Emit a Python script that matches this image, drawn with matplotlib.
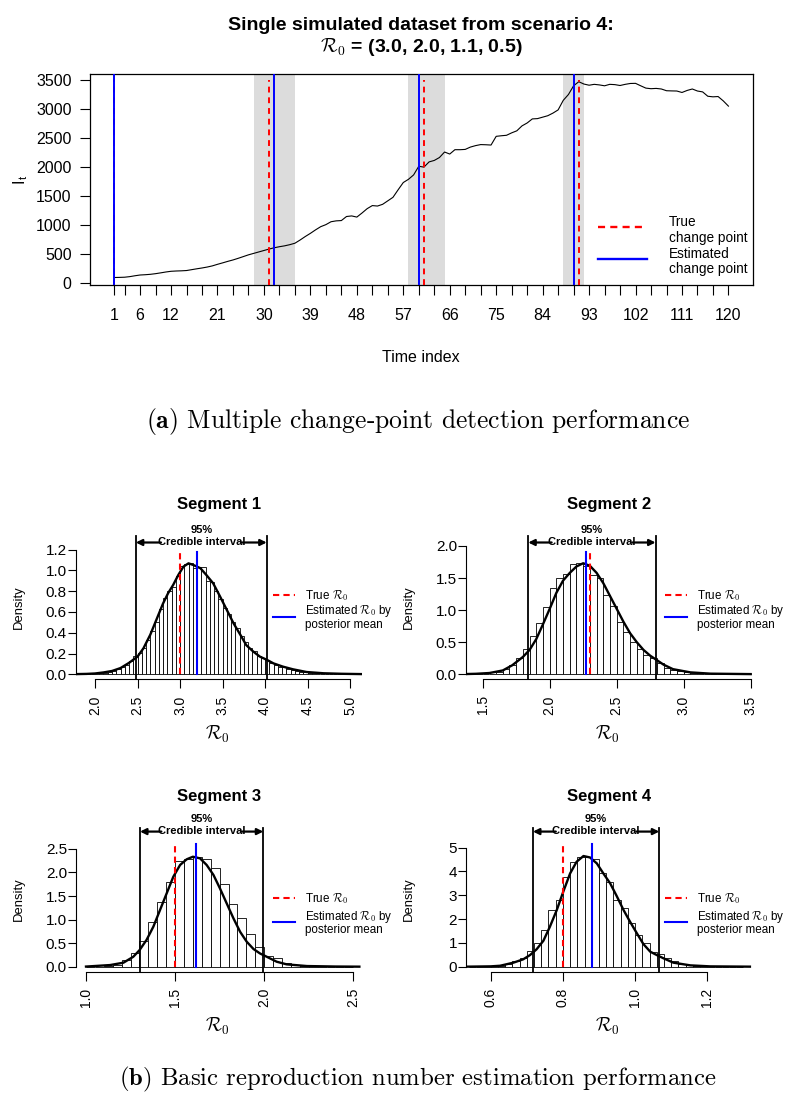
import numpy as np
import matplotlib
matplotlib.use("Agg")
import matplotlib.pyplot as plt
from matplotlib.lines import Line2D
from matplotlib.ticker import FormatStrFormatter
from matplotlib.transforms import blended_transform_factory

# ---- data: single simulated epidemic (scenario 4) ----
time_index = np.arange(1, 121)
infected = [100, 102, 105, 115, 130, 143, 148, 155, 166, 180,
            195, 207, 212, 215, 220, 235, 250, 264, 280, 300,
            327, 352, 378, 402, 430, 460, 490, 515, 540, 565,
            590, 612, 630, 645, 665, 690, 745, 805, 860, 920,
            975, 1010, 1060, 1075, 1080, 1150, 1160, 1140, 1210, 1285,
            1338, 1330, 1360, 1420, 1480, 1610, 1735, 1790, 1866, 2015,
            2000, 2090, 2115, 2165, 2260, 2225, 2300, 2300, 2305, 2345,
            2370, 2388, 2385, 2380, 2530, 2540, 2548, 2590, 2625, 2710,
            2760, 2830, 2835, 2860, 2885, 2930, 2985, 3150, 3250, 3400,
            3470, 3430, 3410, 3425, 3415, 3400, 3425, 3420, 3405, 3425,
            3440, 3442, 3400, 3360, 3350, 3355, 3345, 3315, 3312, 3310,
            3285, 3320, 3345, 3310, 3295, 3220, 3210, 3215, 3140, 3050]
true_cp = [1, 31, 61, 91]
est_cp = [1, 32, 60, 90]
cp_bands = [(28, 36), (58, 65), (88, 92)]
time_ticks = [1] + list(range(3, 121, 3))
time_labels = [1, 6, 12, 21, 30, 39, 48, 57, 66, 75, 84, 93, 102, 111, 120]

# ---- posterior samples of R0 per segment (histogram + density) ----
seg_names = ["Segment 1", "Segment 2", "Segment 3", "Segment 4"]
bin_start = [1.80, 1.40, 1.00, 0.54]
bin_width = [0.05, 0.05, 0.05, 0.02]
hist_heights = [
    [0.001, 0.002, 0.003, 0.005,
     0.008, 0.012, 0.016, 0.024, 0.035, 0.05, 0.07, 0.09, 0.125, 0.18,
     0.205, 0.25, 0.33, 0.42, 0.50, 0.63, 0.73, 0.80, 0.84, 0.95,
     1.04, 1.06, 1.07, 1.02, 1.03, 1.03, 0.90, 0.89, 0.80, 0.72,
     0.64, 0.58, 0.50, 0.45, 0.37, 0.31, 0.25, 0.22, 0.18, 0.16,
     0.14, 0.11, 0.09, 0.07, 0.07, 0.055, 0.04, 0.03, 0.022, 0.018,
     0.012, 0.009, 0.006, 0.004, 0.003, 0.002, 0.0015, 0.001, 0.001, 0.0005,
     0.0003, 0.0002],
    [0.002, 0.003, 0.006, 0.012, 0.03, 0.08, 0.15, 0.25, 0.40, 0.60,
     0.80, 1.05, 1.34, 1.50, 1.57, 1.72, 1.73, 1.69, 1.55, 1.50,
     1.24, 1.07, 0.82, 0.66, 0.51, 0.40, 0.30, 0.25, 0.17, 0.10,
     0.07, 0.045, 0.03, 0.018, 0.01, 0.006, 0.004, 0.003, 0.002, 0.001,
     0.001, 0.0005],
    [0.001, 0.003, 0.01, 0.03, 0.14, 0.30, 0.55, 0.94, 1.38, 1.80,
     2.25, 2.28, 2.33, 2.29, 2.09, 1.75, 1.34, 1.03, 0.69, 0.42,
     0.23, 0.18, 0.085, 0.03, 0.012, 0.005, 0.002, 0.001, 0.0005, 0.0003],
    [0.002, 0.005, 0.01, 0.02, 0.05, 0.12, 0.22, 0.38, 0.65, 1.0,
     1.55, 2.38, 2.80, 3.75, 4.42, 4.62, 4.62, 4.52, 3.95, 3.55,
     2.80, 2.48, 1.85, 1.35, 0.98, 0.62, 0.55, 0.38, 0.22, 0.12,
     0.06, 0.03, 0.015, 0.008, 0.004, 0.002, 0.001, 0.0005],
]
dens_x = [
    [1.78, 1.9, 2.0, 2.1, 2.2, 2.3, 2.4, 2.5, 2.57, 2.65, 2.72, 2.8, 2.86, 2.92,
     2.98, 3.04, 3.10, 3.16, 3.24, 3.31, 3.39, 3.47, 3.55, 3.63, 3.71, 3.78,
     3.86, 3.94, 4.02, 4.10, 4.21, 4.33, 4.49, 4.69, 4.9, 5.14],
    [1.375, 1.45, 1.55, 1.65, 1.72, 1.80, 1.85, 1.90, 1.95, 2.00, 2.05, 2.10,
     2.15, 2.20, 2.25, 2.30, 2.35, 2.40, 2.45, 2.50, 2.55, 2.60, 2.65, 2.70,
     2.75, 2.80, 2.85, 2.92, 3.05, 3.2, 3.5],
    [1.0, 1.135, 1.21, 1.265, 1.30, 1.34, 1.378, 1.415, 1.453, 1.49, 1.528,
     1.565, 1.60, 1.64, 1.677, 1.715, 1.752, 1.79, 1.827, 1.865, 1.902, 1.94,
     1.977, 2.015, 2.07, 2.126, 2.24, 2.4, 2.534],
    [0.535, 0.6, 0.626, 0.663, 0.69, 0.709, 0.727, 0.746, 0.764, 0.783, 0.801,
     0.82, 0.838, 0.857, 0.875, 0.894, 0.912, 0.931, 0.949, 0.968, 0.986,
     1.005, 1.023, 1.042, 1.06, 1.079, 1.106, 1.153, 1.208, 1.318],
]
dens_y = [
    [0.002, 0.004, 0.008, 0.018, 0.032, 0.06, 0.11, 0.17, 0.25, 0.38, 0.52,
     0.68, 0.78, 0.86, 0.955, 1.035, 1.067, 1.05, 1.02, 0.955, 0.875, 0.75,
     0.62, 0.49, 0.38, 0.28, 0.22, 0.17, 0.14, 0.105, 0.074, 0.048, 0.022,
     0.01, 0.005, 0.002],
    [0.004, 0.008, 0.02, 0.06, 0.14, 0.27, 0.38, 0.55, 0.78, 1.02, 1.27, 1.46,
     1.58, 1.68, 1.73, 1.69, 1.58, 1.42, 1.22, 1.02, 0.82, 0.64, 0.50, 0.38,
     0.29, 0.22, 0.15, 0.08, 0.03, 0.01, 0.003],
    [0.003, 0.035, 0.085, 0.21, 0.35, 0.57, 0.85, 1.20, 1.56, 1.91, 2.16,
     2.28, 2.335, 2.30, 2.16, 1.95, 1.66, 1.34, 1.03, 0.74, 0.53, 0.375,
     0.28, 0.21, 0.106, 0.05, 0.014, 0.004, 0.001],
    [0.002, 0.015, 0.04, 0.17, 0.31, 0.49, 0.73, 1.09, 1.68, 2.38, 3.15,
     3.92, 4.41, 4.65, 4.59, 4.34, 3.92, 3.50, 2.97, 2.38, 1.89, 1.40, 0.95,
     0.63, 0.49, 0.35, 0.17, 0.056, 0.014, 0.002],
]
r0_true = [3.0, 2.3, 1.5, 0.8]
r0_est = [3.2, 2.27, 1.62, 0.88]
ci_low = [2.48, 1.84, 1.303, 0.717]
ci_high = [4.02, 2.79, 1.995, 1.067]
x_ticks = [[2.0, 2.5, 3.0, 3.5, 4.0, 4.5, 5.0],
           [1.5, 2.0, 2.5, 3.0, 3.5],
           [1.0, 1.5, 2.0, 2.5],
           [0.6, 0.8, 1.0, 1.2]]
y_ticks = [[0.0, 0.2, 0.4, 0.6, 0.8, 1.0, 1.2],
           [0.0, 0.5, 1.0, 1.5, 2.0],
           [0.0, 0.5, 1.0, 1.5, 2.0, 2.5],
           [0, 1, 2, 3, 4, 5]]

plt.rcParams['font.family'] = ['Liberation Sans', 'DejaVu Sans']
plt.rcParams['mathtext.fontset'] = 'cm'

W, H = 787, 1099
fig = plt.figure(figsize=(W / 100, H / 100), dpi=100)


def fx(p):
    return p / W


def fy(p):
    return 1 - p / H


def label(x, ymid, s, size, cap=0.716, **kw):
    # place text by the middle of its capitals (pixel coords)
    return fig.text(fx(x), fy(ymid + cap * size * 100 / 72 / 2), s,
                    fontsize=size, va='baseline', **kw)


# ================= (a) change-point panel =================
ax = fig.add_axes([fx(89.7), fy(285), (753 - 89.7) / W, (285 - 74) / H])
for lo, hi in cp_bands:
    ax.axvspan(lo, hi, color='#dcdcdc', lw=0, zorder=0)
ax.plot(time_index, infected, color='black', lw=0.8, zorder=3)
for t in true_cp:
    ax.plot([t, t], [-29, 3500], color='red', lw=1.4, dashes=(3, 2.5), zorder=4)
for t in est_cp:
    ax.axvline(t, color='blue', lw=1.4, zorder=5)
ax.set_xlim(-3.76, 124.76)
ax.set_ylim(-29, 3603)
ax.set_xticks(time_ticks)
ax.set_xticklabels([str(t) if t in time_labels else '' for t in time_ticks])
ax.set_yticks(range(0, 3501, 500))
ax.tick_params(axis='x', length=7.2, width=0.8, pad=9, labelsize=11.5)
ax.tick_params(axis='y', length=7.5, width=0.8, pad=5.5, labelsize=11.5)
for sp in ax.spines.values():
    sp.set_linewidth(0.9)

label(421, 23, 'Single simulated dataset from scenario 4:', 14,
      ha='center', fontweight='bold')
fig.text(fx(421), fy(52), r'$\mathcal{R}_0$ = (3.0, 2.0, 1.1, 0.5)',
         fontsize=14, ha='center', va='baseline', fontweight='bold')
label(421, 356, 'Time index', 11.5, ha='center')
fig.text(fx(21), fy(179.5), r'I$_{\mathregular{t}}$', fontsize=11.5,
         rotation=90, ha='center', va='center')

# legend of top panel
fig.add_artist(Line2D([fx(597.7), fx(647)], [fy(227.3)] * 2, color='red',
                      lw=1.7, dashes=(3, 2.2)))
fig.add_artist(Line2D([fx(597.7), fx(647)], [fy(259.3)] * 2, color='blue', lw=1.7))
for yy, s in zip([220.7, 236.7, 252.7, 268.0],
                 ['True', 'change point', 'Estimated', 'change point']):
    label(669, yy, s, 9.8)

fig.text(fx(418), fy(428), r'$\mathbf{(a)}$ Multiple change-point detection performance',
         family='cmr10', fontsize=18.4, ha='center', va='baseline')

# ================= (b) posterior histograms =================
rows = [(679.3, 544.3), (971.7, 836.7)]
cols = [(76, 362), (466, 752)]
xlims = [(1.7765, 5.141), (1.3754, 3.5097), (0.9439, 2.5488), (0.5316, 1.3238)]
ylims = [(-0.048, 1.250), (-0.0779, 2.025), (-0.106, 2.760), (-0.210, 5.462)]

for i in range(4):
    (bot, top), (left, right) = rows[i // 2], cols[i % 2]
    dy = 0 if i < 2 else 292
    a = fig.add_axes([fx(left), fy(bot), (right - left) / W, (bot - top) / H])
    w = bin_width[i]
    centers = bin_start[i] + w * (np.arange(len(hist_heights[i])) + 0.5)
    a.bar(centers, hist_heights[i], width=w, color='white', edgecolor='black',
          lw=0.6, zorder=1)
    a.plot(dens_x[i], dens_y[i], color='black', lw=1.7, zorder=3,
           solid_joinstyle='round')
    a.set_xlim(*xlims[i])
    a.set_ylim(*ylims[i])
    y0 = -ylims[i][0] / (ylims[i][1] - ylims[i][0])
    a.axvline(r0_true[i], ymin=y0, ymax=0.945, color='red', lw=1.5,
              dashes=(3, 2), zorder=4)
    a.axvline(r0_est[i], ymin=y0, ymax=0.945, color='blue', lw=1.5, zorder=5)
    for c in (ci_low[i], ci_high[i]):
        a.plot([c, c], [0, 1.061], color='black', lw=1.3,
               transform=a.get_xaxis_transform(), clip_on=False, zorder=6)

    # axes styled like base R graphics
    for s in ('top', 'right'):
        a.spines[s].set_visible(False)
    a.spines['left'].set_bounds(y_ticks[i][0], y_ticks[i][-1])
    a.spines['bottom'].set_bounds(x_ticks[i][0], x_ticks[i][-1])
    for s in ('left', 'bottom'):
        a.spines[s].set_linewidth(0.8)
    a.set_xticks(x_ticks[i])
    a.set_yticks(y_ticks[i])
    a.xaxis.set_major_formatter(FormatStrFormatter('%.1f'))
    a.yaxis.set_major_formatter(FormatStrFormatter('%d' if i == 3 else '%.1f'))
    a.tick_params(axis='x', length=6.5, width=0.8, pad=5, labelsize=10,
                  labelrotation=90)
    a.tick_params(axis='y', length=5.5, width=0.8, pad=1, labelsize=11)

    mid = (left + right) / 2
    ci_mid = (ci_low[i] + ci_high[i]) / 2
    label(mid, 503 + dy, seg_names[i], 12, ha='center', fontweight='bold')
    fig.text(fx(left - 57), fy(607 + dy), 'Density', fontsize=9.4,
             rotation=90, ha='center', va='center')
    fig.text(fx(mid - 2), fy(739.5 + dy), r'$\mathcal{R}_0$', fontsize=13.5,
             ha='center', va='baseline')

    # 95% credible interval annotation
    bt = blended_transform_factory(a.transData, fig.transFigure)
    yarr = fy(542.5 + dy * 0.99)
    for c in (ci_low[i], ci_high[i]):
        a.annotate('', xy=(c, yarr), xycoords=bt, xytext=(ci_mid, yarr),
                   textcoords=bt,
                   arrowprops=dict(arrowstyle='-|>', color='black', lw=1.6,
                                   shrinkA=29, shrinkB=0, mutation_scale=9),
                   annotation_clip=False)
    a.text(ci_mid, fy(530 + dy * 0.99 + 2.9), '95%', transform=bt,
           fontsize=8, fontweight='bold', ha='center', va='baseline')
    a.text(ci_mid, fy(542.5 + dy * 0.99 + 2.9), 'Credible interval', transform=bt,
           fontsize=8, fontweight='bold', ha='center', va='baseline', zorder=7)

    # legend
    lx0 = left + 196.7 if i % 2 == 0 else left + 199
    ly = [595, 616.7] if i < 2 else [898.3, 921.7]
    fig.add_artist(Line2D([fx(lx0), fx(lx0 + 22.3)], [fy(ly[0])] * 2,
                          color='red', lw=1.5, dashes=(3, 2)))
    fig.add_artist(Line2D([fx(lx0), fx(lx0 + 22.3)], [fy(ly[1])] * 2,
                          color='blue', lw=1.5))
    tx = lx0 + 32.3
    t2 = 610 if i < 2 else 915.7
    label(tx, ly[0], r'True $\mathcal{R}_0$', 8.4)
    label(tx, t2, r'Estimated $\mathcal{R}_0$ by', 8.4)
    label(tx, t2 + 13.5, 'posterior mean', 8.4)

fig.text(fx(418), fy(1085), r'$\mathbf{(b)}$ Basic reproduction number estimation performance',
         family='cmr10', fontsize=17.8, ha='center', va='baseline')

fig.savefig('out.png', dpi=100)
